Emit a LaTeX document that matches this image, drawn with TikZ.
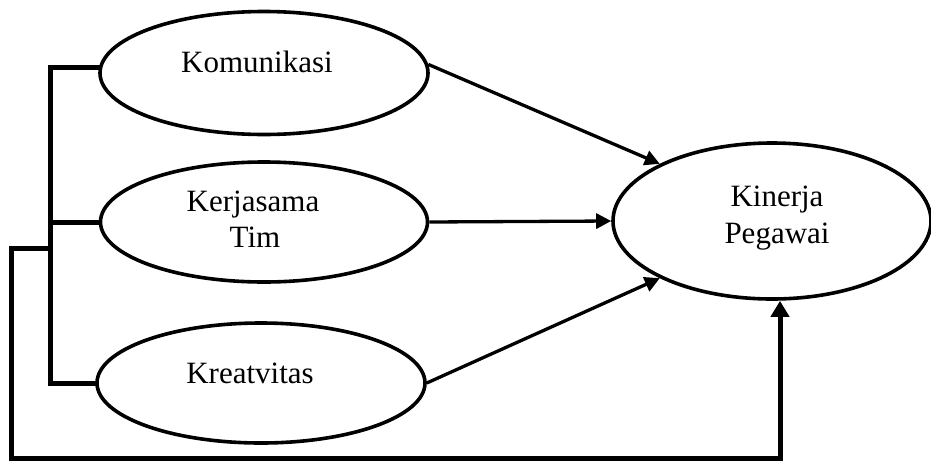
\documentclass[tikz,border=0pt]{standalone}
\usepackage{fontspec}
\setmainfont{Liberation Serif}
\usetikzlibrary{arrows.meta,shapes.geometric}
\begin{document}
\begin{tikzpicture}[x=1pt,y=-1pt,
  oval/.style={ellipse,draw,line width=3.6pt,inner sep=0pt},
  lbl/.style={anchor=base,font=\fontsize{31}{36}\selectfont,inner sep=0pt},
  link/.style={line width=3.3pt,-{Triangle[length=15pt,width=15pt]}},
  bracket/.style={line width=5pt,line join=miter,line cap=rect}]
\useasboundingbox (0,0) rectangle (931,461);
% ovals
\node[oval,minimum width=328pt,minimum height=123pt] (kom) at (264,73) {};
\node[oval,minimum width=327pt,minimum height=120pt] (ker) at (264,222) {};
\node[oval,minimum width=328pt,minimum height=120pt] (kre) at (261,383) {};
\node[oval,minimum width=318pt,minimum height=156pt] (kin) at (772,221) {};
% labels
\node[lbl] (tkom) at (257,72) {Komunikasi};
\node[lbl] (tker1) at (253,211) {Kerjasama};
\node[lbl] (tker2) at (255,247) {Tim};
\node[lbl] (tkre) at (250,383) {Kreatvitas};
\node[lbl] (tkin1) at (777,206) {Kinerja};
\node[lbl] (tkin2) at (777,243) {Pegawai};
% arrows to Kinerja
\draw[link] (kom.3.5) -- (kin.153);
\draw[link] (ker.east) -- (kin.west);
\draw[link] (kre.east) -- (kin.207);
% left bracket
\coordinate (xl) at (50,0);
\draw[bracket] (kom.178) -- (kom.178 -| xl) |- (kre.west);
\draw[bracket] (ker.west) -- (ker.west -| xl);
% outer loop
\coordinate (j) at (50,248);
\coordinate (o1) at (11,248);
\coordinate (o2) at (11,458);
\coordinate (o3) at (780,458);
\draw[bracket,-{Triangle[length=16pt,width=18pt]}] (j) -- (o1) -- (o2) -- (o3) -- (kin.south -| o3);
\end{tikzpicture}
\end{document}
